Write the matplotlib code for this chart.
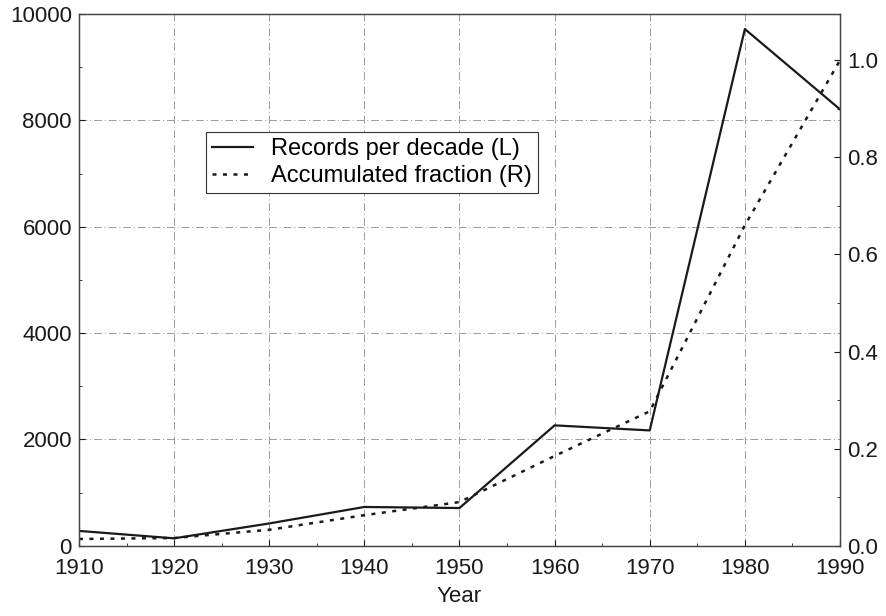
import matplotlib
matplotlib.use("Agg")
import matplotlib.pyplot as plt
from matplotlib.ticker import MultipleLocator

# values
years = [1910, 1920, 1930, 1940, 1950, 1960, 1970, 1980, 1990]
records = [280, 140, 420, 730, 710, 2265, 2170, 9720, 8210]
fraction = [0.014, 0.016, 0.033, 0.063, 0.090, 0.185, 0.277, 0.66, 1.0]
left_ticks = [0, 2000, 4000, 6000, 8000, 10000]
right_ticks = [0.0, 0.2, 0.4, 0.6, 0.8, 1.0]

plt.rcParams["font.family"] = ["Liberation Sans", "DejaVu Sans"]
ink = "#1a1a1a"

fig = plt.figure(figsize=(8.87, 6.16), dpi=100)
ax = fig.add_axes([0.089, 0.114, 0.858, 0.863])
ax2 = ax.twinx()

l1, = ax.plot(years, records, color=ink, lw=1.6, label="Records per decade (L)")
l2, = ax2.plot(years, fraction, color=ink, lw=1.8, linestyle=(0, (1.6, 2.6)),
               label="Accumulated fraction (R)")

ax.set_xlim(1910, 1990)
ax.set_ylim(0, 10000)
ax2.set_ylim(0, 1.095)
ax.set_xticks(years)
ax.set_yticks(left_ticks)
ax2.set_yticks(right_ticks)
ax2.set_yticklabels([f"{t:.1f}" for t in right_ticks])
ax.xaxis.set_minor_locator(MultipleLocator(5))
ax.yaxis.set_minor_locator(MultipleLocator(1000))
ax2.yaxis.set_minor_locator(MultipleLocator(0.1))

ax.grid(True, color="#9a9a9a", lw=0.7, linestyle=(0, (8, 3, 1, 3)))
for a in (ax, ax2):
    a.tick_params(which="both", direction="in", labelsize=16, colors=ink, pad=5)
    a.tick_params(which="major", length=4, width=0.8)
    a.tick_params(which="minor", length=2.5, width=0.6)
    for s in a.spines.values():
        s.set_color("#444444")
        s.set_linewidth(0.9)
ax.tick_params(axis="x", pad=9)

ax.set_xlabel("Year", fontsize=16, color=ink, labelpad=5)

leg = ax.legend(handles=[l1, l2], loc="upper left", bbox_to_anchor=(0.167, 0.778),
                fontsize=17, frameon=True, fancybox=False, framealpha=1,
                edgecolor="#333333", handlelength=1.75, handletextpad=0.75,
                borderpad=0.25, labelspacing=0.2, borderaxespad=0)
leg.get_frame().set_linewidth(0.8)

fig.savefig("out.png", dpi=100)
